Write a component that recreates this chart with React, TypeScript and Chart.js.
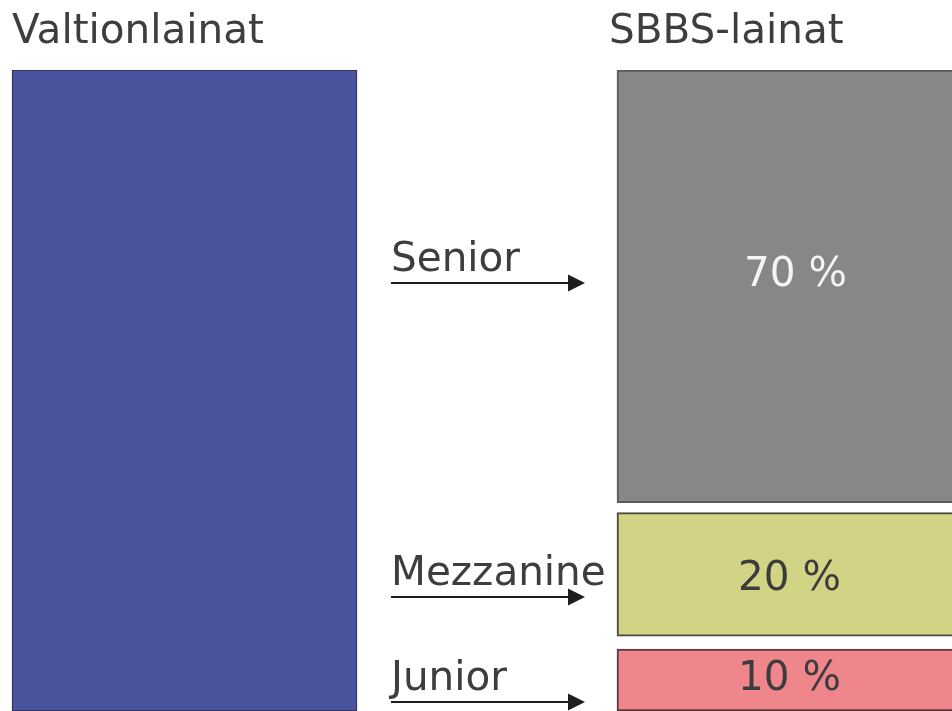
import React, { useEffect, useRef } from 'react';
import { Chart, registerables } from 'chart.js';

Chart.register(...registerables);

// ---- data ----
const categories = ['Valtionlainat', 'SBBS-lainat'];
const tranches = ['Senior', 'Mezzanine', 'Junior'];
const trancheShares = [70, 20, 10];
const shareLabels = ['70 %', '20 %', '10 %'];
const sovereignShare = 100;

// ---- style (not data) ----
const gapBelow = [1.6, 2.1, 0]; // visual gap under each tranche, in % units
const trancheColors = ['#878787', '#d3d386', '#ef868c'];
const trancheBorders = ['#5a5a5a', '#4a4a3a', '#5a3a3a'];
const shareTextColors = ['#f4f4f4', '#3c3c3c', '#3c3c3c'];
const shareBaselineFrac = [0.5, 0.374, 0.34];
const shareXOffset = [6, 0, 0];
const arrowFrac = [0.507, 0.315, 0.15];
const titleXOffset = [0, -8];
const FONT = '40.5px "DejaVu Sans", sans-serif';
const TEXT = '#3e3e3e';

// stacked ranges (bottom up)
const ranges: [number, number][] = new Array(tranches.length);
{
  let cur = 0;
  for (let i = tranches.length - 1; i >= 0; i--) {
    cur += gapBelow[i];
    ranges[i] = [cur, cur + trancheShares[i]];
    cur += trancheShares[i];
  }
}
const yMax = sovereignShare + gapBelow.reduce((a, b) => a + b, 0);

const labelPlugin = {
  id: 'diagramLabels',
  afterDatasetsDraw(chart: any) {
    const ctx = chart.ctx as CanvasRenderingContext2D;
    const get = (i: number) =>
      chart.getDatasetMeta(i).data[0].getProps(['x', 'y', 'base', 'width'], true);
    const blue = get(0);
    const senior = get(1);
    ctx.save();
    ctx.font = FONT;
    ctx.fillStyle = TEXT;
    ctx.textBaseline = 'alphabetic';
    ctx.textAlign = 'left';
    // titles
    const titleBars = [blue, senior];
    categories.forEach((c, i) => {
      const b = titleBars[i];
      ctx.fillText(c, b.x - b.width / 2 + titleXOffset[i], Math.min(b.y, b.base) - 27);
    });
    const blueRight = blue.x + blue.width / 2;
    const sbbsLeft = senior.x - senior.width / 2;
    const arrowStart = blueRight + 34;
    const arrowTip = sbbsLeft - 32;
    tranches.forEach((t, i) => {
      const b = get(i + 1);
      // arrow
      const ay = Math.round(b.base + (b.y - b.base) * arrowFrac[i]);
      ctx.strokeStyle = '#1e1e1e';
      ctx.fillStyle = '#1e1e1e';
      ctx.lineWidth = 2;
      ctx.beginPath();
      ctx.moveTo(arrowStart, ay);
      ctx.lineTo(arrowTip - 12, ay);
      ctx.stroke();
      ctx.beginPath();
      ctx.moveTo(arrowTip, ay);
      ctx.lineTo(arrowTip - 17, ay - 8.5);
      ctx.lineTo(arrowTip - 17, ay + 8.5);
      ctx.closePath();
      ctx.fill();
      // tranche name
      ctx.fillStyle = TEXT;
      ctx.textAlign = 'left';
      ctx.fillText(t, arrowStart, ay - 12);
      // share
      ctx.fillStyle = shareTextColors[i];
      ctx.textAlign = 'center';
      ctx.fillText(shareLabels[i], b.x + shareXOffset[i], b.base + (b.y - b.base) * shareBaselineFrac[i]);
    });
    ctx.restore();
  },
};

export default function App() {
  const ref = useRef<HTMLCanvasElement>(null);
  useEffect(() => {
    const canvas = ref.current!;
    const common = { grouped: false, barThickness: 345, borderSkipped: false as const };
    const chart = new Chart(canvas, {
      type: 'bar',
      data: {
        datasets: [
          {
            label: categories[0],
            data: [{ x: 0, y: [0, yMax] }] as any,
            backgroundColor: '#4a539e',
            borderColor: '#2e3466',
            borderWidth: 1.5,
            ...common,
          },
          ...tranches.map((t, i) => ({
            label: t,
            data: [{ x: 1, y: ranges[i] }] as any,
            backgroundColor: trancheColors[i],
            borderColor: trancheBorders[i],
            borderWidth: 2,
            ...common,
          })),
        ],
      },
      options: {
        responsive: false,
        devicePixelRatio: 1,
        animation: false,
        layout: { padding: { top: 70, bottom: 0, left: 0, right: 0 } },
        plugins: { legend: { display: false }, tooltip: { enabled: false } },
        scales: {
          x: { type: 'linear', display: false, offset: false, min: -184.5 / 605, max: -184.5 / 605 + 952 / 605 },
          y: { display: false, min: 0, max: yMax },
        },
      },
      plugins: [labelPlugin],
    });
    return () => chart.destroy();
  }, []);
  return (
    <div style={{ position: 'fixed', left: 0, top: 0, width: 952, height: 711, background: '#fff' }}>
      <canvas ref={ref} width={952} height={711} style={{ display: 'block', width: 952, height: 711 }} />
    </div>
  );
}
